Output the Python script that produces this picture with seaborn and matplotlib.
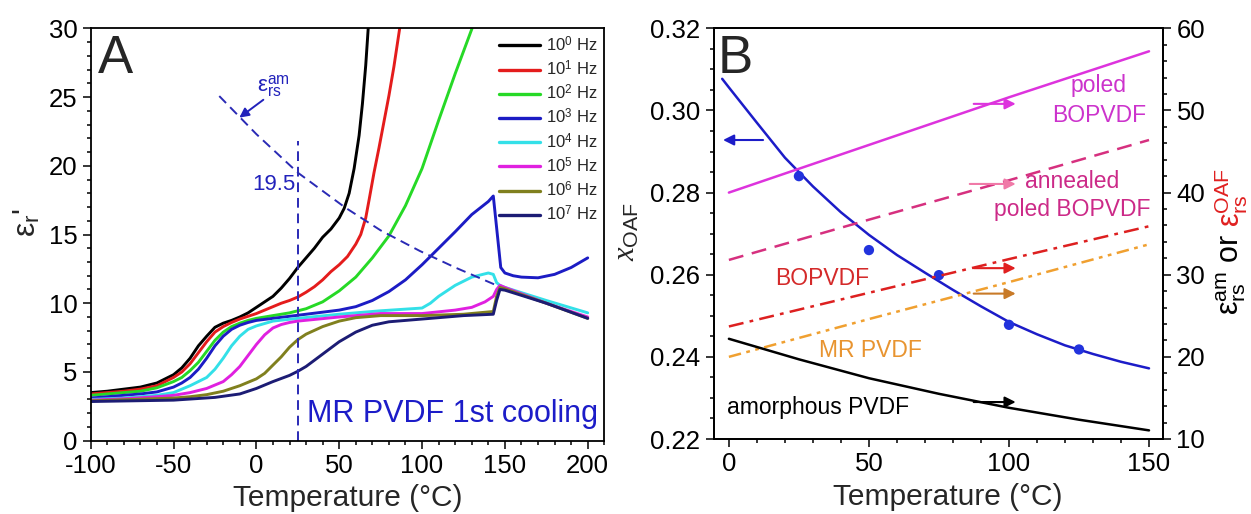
import numpy as np
import pandas as pd
import matplotlib
matplotlib.use('Agg')
import matplotlib.pyplot as plt
import seaborn as sns
from matplotlib.ticker import MultipleLocator, FormatStrFormatter

# ---------------- Panel A: eps_r' vs temperature at each frequency ----------------
t_1e0 = [-100, -90, -80, -70, -60, -50, -45, -40, -35, -30, -25, -20, -15, -10, -5, 0, 5, 10, 15, 20,
         25, 30, 35, 40, 45, 50, 53, 56, 59, 62, 64, 66, 67.5]
eps_1e0 = [3.5, 3.6, 3.75, 3.9, 4.2, 4.8, 5.3, 6.0, 6.9, 7.6, 8.25, 8.55, 8.75, 9.0, 9.3, 9.7, 10.1, 10.5,
           11.1, 11.8, 12.6, 13.3, 14.0, 14.8, 15.4, 16.2, 16.9, 18.0, 19.8, 22.2, 24.5, 27.3, 30.0]

t_1e1 = [-100, -90, -80, -70, -60, -50, -45, -40, -35, -30, -25, -20, -15, -10, -5, 0, 5, 10, 15, 20,
         25, 30, 35, 40, 45, 50, 55, 60, 63, 66, 68, 71, 74, 77, 80, 83, 86.5]
eps_1e1 = [3.4, 3.5, 3.6, 3.75, 4.0, 4.6, 5.0, 5.6, 6.4, 7.2, 7.9, 8.3, 8.6, 8.85, 9.05, 9.25, 9.5, 9.75,
           10.0, 10.2, 10.45, 10.8, 11.2, 11.7, 12.3, 12.8, 13.4, 14.3, 15.0, 16.2, 17.5, 19.5, 21.3, 23.2,
           25.1, 27.2, 30.0]

t_1e2 = [-100, -90, -80, -70, -60, -50, -45, -40, -35, -30, -25, -20, -15, -10, -5, 0, 10, 20, 30, 40,
         50, 60, 70, 80, 90, 100, 110, 120, 130.2]
eps_1e2 = [3.3, 3.4, 3.5, 3.6, 3.85, 4.3, 4.6, 5.1, 5.7, 6.5, 7.3, 7.9, 8.3, 8.55, 8.75, 8.9, 9.1, 9.3,
           9.6, 10.1, 10.9, 11.9, 13.3, 14.9, 17.1, 19.8, 23.3, 26.7, 30.0]

t_1e3 = [-100, -90, -80, -70, -60, -50, -45, -40, -35, -30, -25, -20, -15, -10, -5, 0, 10, 20, 30, 40,
         50, 60, 70, 80, 90, 100, 110, 120, 130, 140, 143, 145, 147.5, 150, 155, 160, 170, 180, 190, 200]
eps_1e3 = [3.1, 3.2, 3.3, 3.4, 3.55, 3.9, 4.2, 4.6, 5.2, 6.0, 6.9, 7.6, 8.1, 8.4, 8.6, 8.75, 8.9, 9.05,
           9.2, 9.35, 9.5, 9.75, 10.2, 10.85, 11.7, 12.8, 14.0, 15.2, 16.45, 17.4, 17.8, 15.5, 12.6, 12.2,
           12.0, 11.9, 11.85, 12.1, 12.6, 13.3]

t_1e4 = [-100, -80, -60, -50, -40, -30, -25, -20, -15, -10, -5, 0, 10, 25, 50, 75, 100, 105, 110, 120,
         130, 140, 143, 145, 147, 150, 175, 200]
eps_1e4 = [3.0, 3.1, 3.3, 3.5, 4.0, 4.6, 5.2, 6.0, 6.9, 7.6, 8.1, 8.35, 8.7, 8.9, 9.2, 9.45, 9.65, 10.0,
           10.5, 11.3, 11.9, 12.2, 12.1, 11.5, 11.3, 11.15, 10.2, 9.3]

t_1e5 = [-100, -80, -60, -50, -40, -30, -20, -15, -10, -5, 0, 5, 10, 15, 20, 25, 50, 75, 100, 120, 130,
         138, 143, 145, 147, 150, 175, 200]
eps_1e5 = [2.95, 3.05, 3.2, 3.3, 3.5, 3.8, 4.3, 4.8, 5.4, 6.2, 7.0, 7.7, 8.2, 8.45, 8.6, 8.7, 9.0, 9.25,
           9.25, 9.5, 9.7, 10.1, 10.5, 11.0, 11.3, 11.15, 10.0, 9.0]

t_1e6 = [-100, -75, -50, -40, -30, -20, -10, 0, 5, 10, 15, 20, 25, 30, 40, 50, 60, 75, 100, 125, 143,
         145, 147, 150, 175, 200]
eps_1e6 = [2.9, 3.0, 3.1, 3.2, 3.35, 3.6, 4.0, 4.5, 4.9, 5.5, 6.1, 6.8, 7.35, 7.75, 8.3, 8.7, 8.95, 9.1,
           9.1, 9.2, 9.4, 10.5, 11.15, 11.05, 10.0, 8.9]

t_1e7 = [-100, -75, -50, -25, -10, 0, 10, 20, 25, 30, 40, 50, 60, 70, 80, 90, 100, 110, 125, 143, 145,
         147, 150, 175, 200]
eps_1e7 = [2.85, 2.9, 2.95, 3.15, 3.4, 3.8, 4.3, 4.75, 5.05, 5.4, 6.3, 7.2, 7.9, 8.4, 8.65, 8.75, 8.85,
           8.95, 9.1, 9.2, 10.2, 11.0, 10.95, 10.0, 8.9]

freq_labels = ['10$^{0}$ Hz', '10$^{1}$ Hz', '10$^{2}$ Hz', '10$^{3}$ Hz',
               '10$^{4}$ Hz', '10$^{5}$ Hz', '10$^{6}$ Hz', '10$^{7}$ Hz']
freq_colors = ['#000000', '#e41c1c', '#26d926', '#1c1cc4', '#33e0e8', '#e020e0', '#80801e', '#1c1c74']

# dashed estimate of eps_rs^am across the transition
t_est = [-22.4, 0, 25, 53.5, 75, 98.7, 120, 145]
eps_est = [25.07, 22.3, 19.5, 16.97, 15.3, 13.8, 12.6, 11.3]

# ---------------- Panel B ----------------
t_fit = [-2.4, 0, 10, 20, 30, 40, 50, 60, 70, 80, 90, 100, 110, 120, 130, 140, 150]
x_oaf_fit = [0.3077, 0.3056, 0.2970, 0.2885, 0.2815, 0.2752, 0.2697, 0.2648, 0.2605, 0.2563, 0.2523,
             0.2485, 0.2455, 0.2428, 0.2407, 0.2388, 0.2372]
t_pts = [25, 50, 75, 100, 125]
x_oaf_pts = [0.284, 0.266, 0.2599, 0.2478, 0.2418]

t_lin = [0, 50, 100, 150]
eps_poled = [40.0, 45.8, 51.6, 57.2]
eps_annealed = [31.8, 36.7, 41.5, 46.4]
eps_bopvdf = [23.7, 27.8, 31.9, 35.9]
eps_mr = [20.0, 24.6, 29.1, 33.7]
t_am = [0, 25, 50, 75, 100, 125, 150]
eps_amorph = [22.2, 19.7, 17.4, 15.5, 13.8, 12.35, 11.05]

# ---------------- style ----------------
sns.set_theme(style='ticks')
plt.rcParams['font.family'] = ['Liberation Sans', 'DejaVu Sans']
plt.rcParams['mathtext.fontset'] = 'custom'
plt.rcParams['mathtext.rm'] = 'Liberation Sans'
plt.rcParams['mathtext.it'] = 'Liberation Serif:italic'
plt.rcParams['mathtext.bf'] = 'Liberation Sans:bold'
plt.rcParams['axes.unicode_minus'] = False
plt.rcParams['axes.edgecolor'] = 'black'

W, H = 1251, 514
fig = plt.figure(figsize=(W / 100, H / 100), dpi=100)


def px_box(l, t, r, b):
    return [l / W, 1 - b / H, (r - l) / W, (b - t) / H]


axA = fig.add_axes(px_box(90.7, 28.3, 604.3, 440.7))
axB = fig.add_axes(px_box(713.5, 28.3, 1163.3, 439))


def style(ax):
    ax.tick_params(which='both', direction='out', width=1.1, labelsize=18.5, pad=4,
                   colors='black', top=False, right=False)
    ax.tick_params(which='major', length=5.5)
    ax.tick_params(which='minor', length=3)
    for s in ax.spines.values():
        s.set_linewidth(1.3)
        s.set_color('black')


# ---- Panel A ----
curves = [(t_1e0, eps_1e0), (t_1e1, eps_1e1), (t_1e2, eps_1e2), (t_1e3, eps_1e3),
          (t_1e4, eps_1e4), (t_1e5, eps_1e5), (t_1e6, eps_1e6), (t_1e7, eps_1e7)]
for (t, e), lab, col in zip(curves, freq_labels, freq_colors):
    sns.lineplot(x=t, y=e, ax=axA, color=col, lw=2.1, label=lab, estimator=None, sort=False)

blue_txt = '#2222bb'
sns.lineplot(x=t_est, y=eps_est, ax=axA, color='#2a2ab5', lw=1.4, estimator=None, sort=False, legend=False)
axA.lines[-1].set_dashes((5, 3))
sns.lineplot(x=[25, 25], y=[0, 21.8], ax=axA, color='#2a2ab5', lw=1.4, estimator=None, sort=False, legend=False)
axA.lines[-1].set_dashes((5, 3))

axA.annotate('', xy=(-10.3, 23.5), xytext=(4.2, 24.8),
             arrowprops=dict(arrowstyle='-|>', color=blue_txt, lw=1.4, mutation_scale=14,
                             shrinkA=0, shrinkB=0))
axA.text(10.2, 25.8, r'ε$_{\mathrm{rs}}^{\mathrm{am}}$', color=blue_txt, fontsize=16,
         ha='center', va='center')
axA.text(23.5, 18.65, '19.5', color=blue_txt, fontsize=16, ha='right', va='center')
axA.text(206.2, 1.36, 'MR PVDF 1st cooling', color='#1c1cc8', fontsize=22, ha='right', va='baseline')
axA.text(0.0142, 0.892, 'A', transform=axA.transAxes, fontsize=38, ha='left', va='baseline')

axA.set_xlim(-100, 210)
axA.set_ylim(0, 30)
axA.xaxis.set_major_locator(MultipleLocator(50))
axA.xaxis.set_minor_locator(MultipleLocator(10))
axA.yaxis.set_major_locator(MultipleLocator(5))
axA.yaxis.set_minor_locator(MultipleLocator(1))
style(axA)
axA.set_xlabel('Temperature (°C)', fontsize=21.5)
axA.xaxis.set_label_coords(0.501, -0.104)
axA.set_ylabel("ε$_{\\mathrm{r}}$'", fontsize=23)
axA.yaxis.set_label_coords(-0.093, 0.528)

leg = axA.legend(loc='upper right', bbox_to_anchor=(1.0, 1.0), frameon=False, fontsize=12,
                 handlelength=2.5, handletextpad=0.35, labelspacing=0.3, borderaxespad=0.0,
                 borderpad=0.4)
for ln in leg.get_lines():
    ln.set_linewidth(2.4)

# ---- Panel B ----
ax2 = axB.twinx()
c_blue = '#1c1cc8'
sns.lineplot(x=t_fit, y=x_oaf_fit, ax=axB, color=c_blue, lw=1.8, estimator=None, sort=False, legend=False)
sns.scatterplot(x=t_pts, y=x_oaf_pts, ax=axB, color='#2233dd', s=55, edgecolor='none', zorder=5, legend=False)

sns.lineplot(x=t_lin, y=eps_poled, ax=ax2, color='#dd33dd', lw=1.8, estimator=None, sort=False, legend=False)
sns.lineplot(x=t_lin, y=eps_annealed, ax=ax2, color='#d6307f', lw=1.8, estimator=None, sort=False, legend=False)
ax2.lines[-1].set_dashes((6, 3.5))
sns.lineplot(x=t_lin, y=eps_bopvdf, ax=ax2, color='#dd2020', lw=1.8, estimator=None, sort=False, legend=False)
ax2.lines[-1].set_dashes((6, 2.5, 1.5, 2.5))
sns.lineplot(x=t_lin, y=eps_mr, ax=ax2, color='#f0a030', lw=1.8, estimator=None, sort=False, legend=False)
ax2.lines[-1].set_dashes((5, 2.2, 1.5, 2.2, 1.5, 2.2))
sns.lineplot(x=t_am, y=eps_amorph, ax=ax2, color='black', lw=1.8, estimator=None, sort=False, legend=False)


def arrow(ax, tip, tail, col):
    ax.annotate('', xy=tip, xytext=tail,
                arrowprops=dict(arrowstyle='-|>', color=col, lw=1.5, mutation_scale=16,
                                shrinkA=0, shrinkB=0))


arrow(axB, (-2.1, 0.2928), (12.2, 0.2928), c_blue)
arrow(ax2, (102.4, 50.8), (87.4, 50.8), '#dd33dd')
arrow(ax2, (102.4, 41.05), (86.0, 41.05), '#f07aa8')
arrow(ax2, (102.4, 30.8), (87.4, 30.8), '#e02020')
arrow(ax2, (102.4, 27.7), (87.4, 27.7), '#c87a28')
arrow(ax2, (102.4, 14.5), (87.4, 14.5), 'black')

axB.text(132.1, 0.3044, 'poled', color='#cc33cc', fontsize=16.5, ha='center', va='baseline')
axB.text(132.1, 0.2971, 'BOPVDF', color='#cc33cc', fontsize=16.5, ha='center', va='baseline')
axB.text(122.5, 0.2811, 'annealed', color='#cc2a88', fontsize=16.5, ha='center', va='baseline')
axB.text(122.5, 0.2742, 'poled BOPVDF', color='#cc2a88', fontsize=16.5, ha='center', va='baseline')
axB.text(33.3, 0.2575, 'BOPVDF', color='#d42a2a', fontsize=16.5, ha='center', va='baseline')
axB.text(50.5, 0.2400, 'MR PVDF', color='#e89430', fontsize=16.5, ha='center', va='baseline')
axB.text(31.9, 0.2260, 'amorphous PVDF', color='black', fontsize=16.5, ha='center', va='baseline')
axB.text(0.01, 0.892, 'B', transform=axB.transAxes, fontsize=38, ha='left', va='baseline')

axB.set_xlim(-5.5, 155.1)
axB.set_ylim(0.22, 0.32)
axB.xaxis.set_major_locator(MultipleLocator(50))
axB.xaxis.set_minor_locator(MultipleLocator(10))
axB.yaxis.set_major_locator(MultipleLocator(0.02))
axB.yaxis.set_minor_locator(MultipleLocator(0.005))
axB.yaxis.set_major_formatter(FormatStrFormatter('%.2f'))
style(axB)
axB.set_xlabel('Temperature (°C)', fontsize=21.5)
axB.xaxis.set_label_coords(0.521, -0.108)
axB.set_ylabel(r'$x_{\mathrm{OAF}}$', fontsize=22)
axB.yaxis.set_label_coords(-0.159, 0.504)

ax2.set_ylim(10, 60)
ax2.yaxis.set_major_locator(MultipleLocator(10))
ax2.yaxis.set_minor_locator(MultipleLocator(2))
ax2.tick_params(axis='y', which='both', direction='out', width=1.1, labelsize=18.5, pad=4,
                colors='black', right=True, left=False, labelright=True, labelleft=False)
ax2.tick_params(axis='y', which='major', length=5.5)
ax2.tick_params(axis='y', which='minor', length=3)
for s in ax2.spines.values():
    s.set_linewidth(1.3)
    s.set_color('black')

# right axis label: black part then red part, stacked along the rotated direction
lab_x = 1231 / W
t_black = fig.text(lab_x, 1 - 315 / H, r'ε$_{\mathrm{rs}}^{\mathrm{am}}$ or', rotation=90,
                   fontsize=22, ha='center', va='bottom', color='black')
fig.canvas.draw()
bb = t_black.get_window_extent()
fig.text(lab_x, (bb.y1 + 7) / H, r'ε$_{\mathrm{rs}}^{\mathrm{OAF}}$', rotation=90,
         fontsize=22, ha='center', va='bottom', color='#e02020')

fig.savefig('out.png', dpi=100)
